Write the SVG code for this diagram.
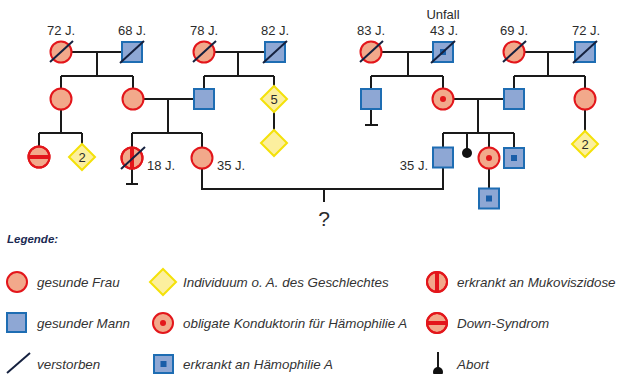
<svg xmlns="http://www.w3.org/2000/svg" width="617" height="374" viewBox="0 0 617 374">
<defs>
<style>
.f{fill:#f2a98b;stroke:#e3161b;stroke-width:2}
.m{fill:#8ea7d4;stroke:#1e6db3;stroke-width:2}
.d{fill:#fcef9e;stroke:#f4e10a;stroke-width:2}
.l{fill:none;stroke:#1a1a1a;stroke-width:2}
.x{stroke:#15213f;stroke-width:2}
.t{font-family:"Liberation Sans",Arial,sans-serif;font-size:13px;fill:#2b2b2b}
.c{text-anchor:middle}
.lg{font-family:"Liberation Sans",Arial,sans-serif;font-size:13.4px;font-style:italic;fill:#333}
.dot{fill:#e3161b}
.hd{fill:#1a5ea8}
.bar{stroke:#e3161b;stroke-width:4}
</style>
</defs>
<rect width="617" height="374" fill="#ffffff"/>
<g id="connectors">
<path class="l" d="M71.5 52H122M97 52V76M61 76H133M61 76V88.5M133 76V88.5"/>
<path class="l" d="M143.5 99H194M168 99V133M132 133H202M132 133V147.5M202 133V147.5"/>
<path class="l" d="M214.5 52H265M238 52V76M204 76H274M204 76V89M274 76V86"/>
<path class="l" d="M61 109.5V133M39 133H82M39 133V146.5M82 133V144"/>
<path class="l" d="M274 112V130"/>
<path class="l" d="M132 168.5V184M126 184H138"/>
<path class="l" d="M381.5 52H433M408 52V76M371 76H443M371 76V89M443 76V88.5"/>
<path class="l" d="M371 109V125M365 125H378"/>
<path class="l" d="M524.5 52H574M548 52V76M514 76H585M514 76V89M585 76V88.5"/>
<path class="l" d="M585 109.5V131"/>
<path class="l" d="M453.5 99H504M478 99V133M443 133H514M443 133V147.5M467 133V150M489 133V147.5M514 133V148"/>
<path class="l" d="M489 168.5V188.5"/>
<path class="l" d="M202 168.5V189H443V167.5M324 189V202"/>
</g>
<g id="gen1-left">
<g id="n72a"><circle class="f" cx="61" cy="52" r="10.5"/><line class="x" x1="50" y1="62" x2="73" y2="41"/><text class="t c" x="61" y="35">72 J.</text></g>
<g id="n68"><rect class="m" x="122" y="42" width="20" height="20"/><line class="x" x1="120" y1="63" x2="144" y2="41"/><text class="t c" x="132" y="35">68 J.</text></g>
<g id="n78"><circle class="f" cx="204" cy="52" r="10.5"/><line class="x" x1="193" y1="62" x2="216" y2="41"/><text class="t c" x="204" y="35">78 J.</text></g>
<g id="n82"><rect class="m" x="265" y="42" width="20" height="20"/><line class="x" x1="263" y1="63" x2="287" y2="41"/><text class="t c" x="275" y="35">82 J.</text></g>
</g>
<g id="gen1-right">
<g id="n83"><circle class="f" cx="371" cy="52" r="10.5"/><line class="x" x1="360" y1="62" x2="383" y2="41"/><text class="t c" x="371" y="35">83 J.</text></g>
<g id="n43"><rect class="m" x="433" y="42" width="20" height="20"/><rect class="hd" x="440" y="49" width="6" height="6"/><line class="x" x1="431" y1="63" x2="455" y2="41"/><text class="t c" x="444" y="35">43 J.</text><text class="t c" x="443" y="19">Unfall</text></g>
<g id="n69"><circle class="f" cx="514" cy="52" r="10.5"/><line class="x" x1="503" y1="62" x2="526" y2="41"/><text class="t c" x="514" y="35">69 J.</text></g>
<g id="n72b"><rect class="m" x="575" y="42" width="20" height="20"/><line class="x" x1="573" y1="63" x2="597" y2="41"/><text class="t c" x="586" y="35">72 J.</text></g>
</g>
<g id="gen2">
<g id="g2a"><circle class="f" cx="61" cy="99" r="10.5"/></g>
<g id="g2b"><circle class="f" cx="133" cy="99" r="10.5"/></g>
<g id="g2c"><rect class="m" x="194" y="89" width="20" height="20"/></g>
<g id="g2d"><polygon class="d" points="274,86 287,99 274,112 261,99"/><text class="t c" x="274" y="104">5</text></g>
<g id="g2e"><rect class="m" x="361" y="89" width="20" height="20"/></g>
<g id="g2f"><circle class="f" cx="443" cy="99" r="10.5"/><circle class="dot" cx="443" cy="99" r="3"/></g>
<g id="g2g"><rect class="m" x="504" y="89" width="20" height="20"/></g>
<g id="g2h"><circle class="f" cx="585" cy="99" r="10.5"/></g>
</g>
<g id="gen3">
<g id="g3a"><circle class="f" cx="39" cy="157" r="10.5"/><line class="bar" x1="28.5" y1="157" x2="49.5" y2="157"/><circle cx="39" cy="157" r="10.5" fill="none" stroke="#e3161b" stroke-width="2"/></g>
<g id="g3b"><polygon class="d" points="82,144 95,157 82,170 69,157"/><text class="t c" x="82" y="162">2</text></g>
<g id="g3c"><circle class="f" cx="132" cy="158" r="10.5"/><line class="bar" x1="132" y1="147.5" x2="132" y2="168.5"/><circle cx="132" cy="158" r="10.5" fill="none" stroke="#e3161b" stroke-width="2"/><line class="x" x1="121" y1="169" x2="145" y2="147"/><text class="t" x="147" y="170">18 J.</text></g>
<g id="g3d"><circle class="f" cx="202" cy="158" r="10.5"/><text class="t" x="217" y="170">35 J.</text></g>
<g id="g3e"><polygon class="d" points="274,130 287,143 274,156 261,143"/></g>
<g id="g3f"><rect class="m" x="433" y="147.5" width="20" height="20"/><text class="t" x="428" y="170" text-anchor="end">35 J.</text></g>
<g id="g3g"><circle cx="467" cy="153" r="5" fill="#111"/></g>
<g id="g3h"><circle class="f" cx="489" cy="158" r="10.5"/><circle class="dot" cx="489" cy="158" r="3"/></g>
<g id="g3i"><rect class="m" x="504" y="148" width="20" height="20"/><rect class="hd" x="511" y="155" width="6" height="6"/></g>
<g id="g3j"><polygon class="d" points="585,131 598,144 585,157 572,144"/><text class="t c" x="585" y="149">2</text></g>
</g>
<g id="gen4">
<g id="g4a"><rect class="m" x="479" y="188.5" width="20" height="20"/><rect class="hd" x="486" y="195.5" width="6" height="6"/></g>
<g id="q"><text class="t c" x="324" y="226" style="font-size:21px">?</text></g>
</g>
<g id="legend">
<text x="7" y="243" font-family="Liberation Sans,Arial,sans-serif" font-size="11.5" font-weight="bold" font-style="italic" fill="#1b2a52">Legende:</text>
<circle class="f" cx="17" cy="282" r="10"/><text class="lg" x="37" y="287">gesunde Frau</text>
<polygon class="d" points="163,269 176,282 163,295 150,282"/><text class="lg" x="183" y="287">Individuum o. A. des Geschlechtes</text>
<circle class="f" cx="437" cy="282" r="10"/><line class="bar" x1="437" y1="272" x2="437" y2="292"/><circle cx="437" cy="282" r="10" fill="none" stroke="#e3161b" stroke-width="2"/><text class="lg" x="457" y="287">erkrankt an Mukoviszidose</text>
<rect class="m" x="7" y="313" width="19" height="19"/><text class="lg" x="37" y="328">gesunder Mann</text>
<circle class="f" cx="163" cy="323" r="10"/><circle class="dot" cx="163" cy="323" r="3"/><text class="lg" x="183" y="328">obligate Konduktorin für Hämophilie A</text>
<circle class="f" cx="437" cy="323" r="10"/><line class="bar" x1="427" y1="323" x2="447" y2="323"/><circle cx="437" cy="323" r="10" fill="none" stroke="#e3161b" stroke-width="2"/><text class="lg" x="457" y="328">Down-Syndrom</text>
<line class="x" x1="7" y1="373" x2="30" y2="353"/><text class="lg" x="37" y="369">verstorben</text>
<rect class="m" x="154" y="355" width="19" height="18"/><rect class="hd" x="160.5" y="361" width="6" height="6"/><text class="lg" x="183" y="369">erkrankt an Hämophilie A</text>
<line class="l" x1="438" y1="352" x2="438" y2="368"/><circle cx="438" cy="372" r="5" fill="#111"/><text class="lg" x="457" y="369">Abort</text>
</g>
</svg>
